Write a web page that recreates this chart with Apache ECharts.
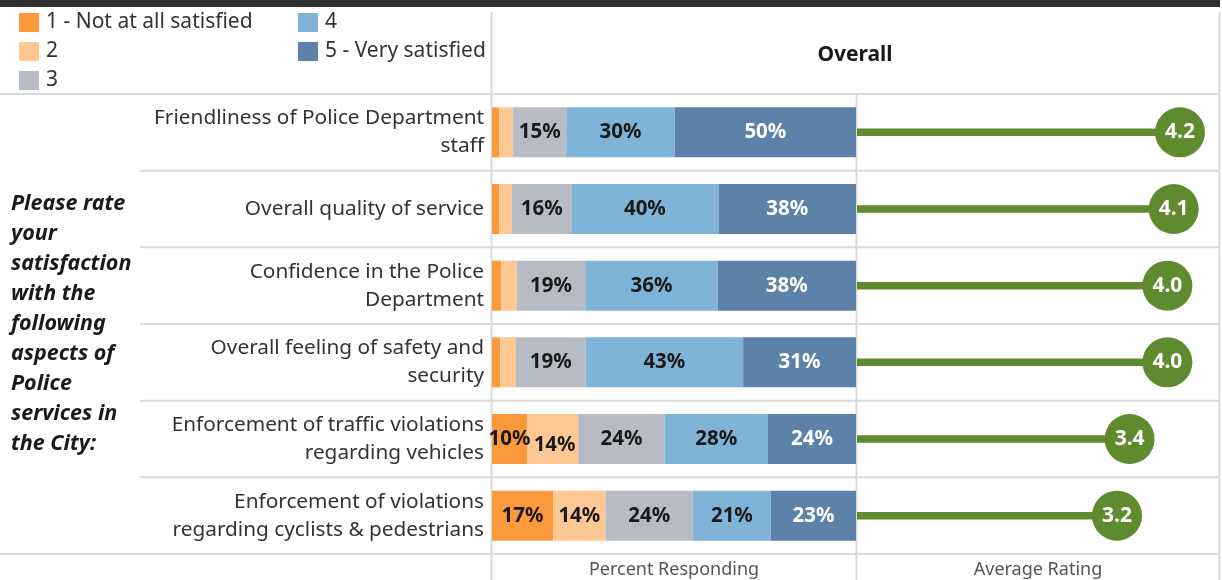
<!DOCTYPE html>
<html><head><meta charset="utf-8">
<script src="https://cdn.jsdelivr.net/npm/echarts@6/dist/echarts.min.js"></script>
<style>html,body{margin:0;padding:0;background:#fff}#c{width:1222px;height:580px}</style>
</head><body><div id="c"></div>
<script>
// ---- data ----
const categories = [
  'Friendliness of Police Department\nstaff',
  'Overall quality of service',
  'Confidence in the Police\nDepartment',
  'Overall feeling of safety and\nsecurity',
  'Enforcement of traffic violations\nregarding vehicles',
  'Enforcement of violations\nregarding cyclists & pedestrians'
];
const levels = ['1 - Not at all satisfied', '2', '3', '4', '5 - Very satisfied'];
const pct1 = [2.0, 2.0, 2.6, 2.3, 9.6, 16.8];
const pct2 = [3.8, 3.5, 4.2, 4.3, 14.1, 14.4];
const pct3 = [14.6, 16.3, 18.8, 19.1, 23.7, 24.0];
const pct4 = [29.8, 40.4, 36.4, 43.3, 28.4, 21.4];
const pct5 = [49.8, 37.8, 38.0, 31.0, 24.2, 23.4];
const avgRating = [4.2, 4.1, 4.0, 4.0, 3.4, 3.2];
const questionText = 'Please rate\nyour\nsatisfaction\nwith the\nfollowing\naspects of\nPolice\nservices in\nthe City:';
const headerText = 'Overall';
const footerLeft = 'Percent Responding';
const footerRight = 'Average Rating';

// ---- style ----
const FONT = '"Noto Sans"';
const colors = ['#fb993c', '#fec893', '#b6bbc4', '#7fb3d7', '#5c82a9'];
const green = '#5f8b2e';
const lineColor = '#dadada';
const GRID_TOP = 94, GRID_H = 460, ROW_H = GRID_H / 6;

const chart = echarts.init(document.getElementById('c'), null, {renderer: 'canvas'});
const pctSeries = [pct1, pct2, pct3, pct4, pct5];

const barSeries = pctSeries.map((arr, si) => ({
  name: levels[si],
  type: 'bar',
  stack: 'total',
  xAxisIndex: 0, yAxisIndex: 0,
  barWidth: 50,
  itemStyle: {color: colors[si]},
  data: arr.map((v, ri) => {
    const item = {value: v};
    if (ri === 4 && si === 1) item.label = {offset: [2, 6]};
    return item;
  }),
  label: {
    show: true,
    position: 'inside',
    formatter: p => p.value >= 9 ? Math.round(p.value) + '%' : '',
    color: si === 4 ? '#ffffff' : '#1a1a1a',
    fontFamily: FONT, fontWeight: 'bold', fontSize: 20.5
  },
  emphasis: {disabled: true}
}));

const graphics = [];
graphics.push({type: 'rect', shape: {x: 0, y: 0, width: 1220, height: 7}, style: {fill: '#2f2f2f'}, silent: true});
function hline(x1, x2, y) {
  graphics.push({type: 'line', shape: {x1, y1: y, x2, y2: y}, style: {stroke: lineColor, lineWidth: 2}, silent: true, z: -1});
}
function vline(x, y1, y2) {
  graphics.push({type: 'line', shape: {x1: x, y1, x2: x, y2}, style: {stroke: lineColor, lineWidth: 2}, silent: true, z: -1});
}
hline(0, 1220, GRID_TOP);
for (let i = 1; i < 6; i++) hline(140, 1220, GRID_TOP + i * ROW_H);
hline(0, 1220, GRID_TOP + GRID_H);
vline(491.5, 12, 580);
vline(1219.5, 12, 580);
vline(856.5, GRID_TOP, 580);

graphics.push({type: 'text', x: 855, y: 55, style: {text: headerText, font: 'bold 21px ' + FONT, fill: '#1a1a1a', align: 'center', verticalAlign: 'middle'}, silent: true});
graphics.push({type: 'text', x: 11, y: 189, style: {text: questionText, font: 'italic bold 21.5px ' + FONT, fill: '#1a1a1a', lineHeight: 30, align: 'left', verticalAlign: 'top'}, silent: true});
graphics.push({type: 'text', x: 674, y: 570, style: {text: footerLeft, font: '18px ' + FONT, fill: '#555555', align: 'center', verticalAlign: 'middle'}, silent: true});
graphics.push({type: 'text', x: 1038, y: 570, style: {text: footerRight, font: '18px ' + FONT, fill: '#555555', align: 'center', verticalAlign: 'middle'}, silent: true});

const legendText = {fontFamily: FONT, fontSize: 21, color: '#333333', padding: [0, 0, 0, 2], lineHeight: 19};

chart.setOption({
  animation: false,
  backgroundColor: '#ffffff',
  legend: [
    {data: levels.slice(0, 3), left: 19, top: 12, padding: 0, orient: 'vertical', icon: 'rect', itemWidth: 20, itemHeight: 19, itemGap: 8, textStyle: legendText, selectedMode: false},
    {data: levels.slice(3), left: 298, top: 12, padding: 0, orient: 'vertical', icon: 'rect', itemWidth: 20, itemHeight: 19, itemGap: 8, textStyle: legendText, selectedMode: false}
  ],
  grid: [
    {left: 492, width: 364, top: GRID_TOP, height: GRID_H, containLabel: false},
    {left: 857, width: 362, top: GRID_TOP, height: GRID_H, containLabel: false}
  ],
  xAxis: [
    {gridIndex: 0, type: 'value', min: 0, max: 100, show: false},
    {gridIndex: 1, type: 'value', min: -0.93, max: 4.82, show: false}
  ],
  yAxis: [
    {gridIndex: 0, type: 'category', inverse: true, data: categories,
      axisLine: {show: false}, axisTick: {show: false}, splitLine: {show: false},
      axisLabel: {margin: 8, align: 'right', fontFamily: FONT, fontSize: 20.8, color: '#333333', lineHeight: 28}},
    {gridIndex: 1, type: 'category', inverse: true, data: categories, show: false}
  ],
  series: barSeries.concat([
    {
      type: 'custom', xAxisIndex: 1, yAxisIndex: 1,
      data: avgRating.map((v, i) => [v, i]),
      renderItem: (params, api) => {
        const end = api.coord([api.value(0), api.value(1)]);
        const x0 = params.coordSys.x;
        return {type: 'line', shape: {x1: x0, y1: end[1], x2: end[0], y2: end[1]}, style: {stroke: green, lineWidth: 7.5}};
      },
      silent: true
    },
    {
      type: 'scatter', xAxisIndex: 1, yAxisIndex: 1,
      data: avgRating.map((v, i) => [v, i]),
      symbol: 'circle', symbolSize: 50,
      itemStyle: {color: green, opacity: 1},
      label: {show: true, position: 'inside', formatter: p => p.value[0].toFixed(1), color: '#ffffff', fontFamily: FONT, fontWeight: 'bold', fontSize: 21},
      silent: true, z: 5
    }
  ]),
  graphic: graphics
});
</script></body></html>
